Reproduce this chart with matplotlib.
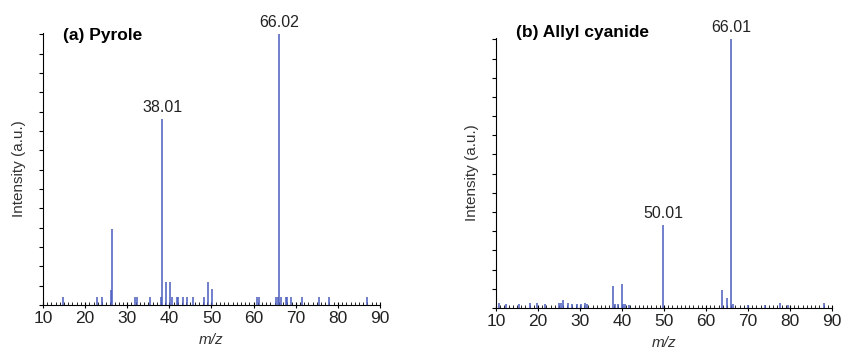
import numpy as np
import matplotlib.pyplot as plt
from matplotlib.ticker import MultipleLocator

plt.rcParams['font.family'] = ['Liberation Sans', 'DejaVu Sans']

# (a) Pyrole: m/z and relative intensity (%)
pyr_mz = [14.7, 22.9, 24.0, 26.1, 26.3, 31.8, 32.3, 35.4, 38.0, 38.3, 39.1, 40.2,
          40.7, 41.8, 42.1, 43.2, 44.1, 45.5, 48.2, 49.2, 50.1, 60.8, 61.2, 65.2,
          65.7, 66.1, 66.5, 67.6, 68.0, 68.9, 71.6, 75.6, 77.8, 86.9]
pyr_int = [3, 3, 3, 5.5, 28, 3, 3, 3, 3, 68.6, 8.6, 8.6,
           3, 3, 3, 3, 3, 3, 3, 8.6, 5.8, 3, 3, 3,
           3, 100, 3, 3, 3, 3, 3, 3, 3, 3]

# (b) Allyl cyanide
ally_mz = [10.7, 12.5, 15.5, 18.0, 19.8, 21.7, 25.1, 25.5, 26.0, 27.1, 28.1, 29.2,
           30.2, 31.3, 31.7, 37.9, 38.3, 39.0, 39.9, 40.3, 40.8, 41.6, 49.8,
           63.8, 64.9, 65.9, 66.4, 70.0, 74.1, 77.6, 79.5, 88.0]
ally_int = [2, 1.5, 1.5, 2, 2, 1.5, 1.8, 2, 2.8, 2, 1.5, 1.5,
            1.5, 2, 1.5, 8.2, 1.5, 1.5, 9.1, 1.5, 1.5, 1.2, 31,
            6.8, 3.9, 100, 1.5, 1.2, 1.2, 2, 1.2, 2]

panels = [
    ("(a) Pyrole", 0.99, pyr_mz, pyr_int, [(66.1, 100, "66.02"), (38.3, 68.6, "38.01")],
     [43 / 845, 45 / 350, 337 / 845, 272 / 350]),
    ("(b) Allyl cyanide", 1.02, ally_mz, ally_int, [(65.9, 100, "66.01"), (49.8, 31, "50.01")],
     [496 / 845, 42 / 350, 336 / 845, 270 / 350]),
]

color = '#4a5dc0'
txt = '#222222'

fig = plt.figure(figsize=(8.45, 3.5), dpi=100)

for title, ty, mz, inten, labels, rect in panels:
    ax = fig.add_axes(rect)
    ax.vlines(mz, 0, inten, color=color, linewidth=1.1)
    ax.set_xlim(10, 90)
    ax.set_ylim(0, 100.5)
    ax.spines['top'].set_visible(False)
    ax.spines['right'].set_visible(False)
    ax.xaxis.set_major_locator(MultipleLocator(10))
    ax.xaxis.set_minor_locator(MultipleLocator(1))
    ax.set_yticks(np.linspace(0, 100, 15))
    ax.set_yticklabels([])
    ax.tick_params(axis='x', which='major', direction='inout', length=5,
                   labelsize=12.5, pad=2, labelcolor=txt)
    ax.tick_params(axis='x', which='minor', direction='in', length=2)
    ax.tick_params(axis='y', direction='out', length=3)
    ax.set_xlabel('m/z', fontsize=11, style='italic', color='#333333', labelpad=5)
    ax.set_ylabel('Intensity (a.u.)', fontsize=11, color='#333333', labelpad=6)
    ax.text(0.06, ty, title, transform=ax.transAxes, fontsize=12.5,
            fontweight='bold', va='center', ha='left')
    for x, y, lab in labels:
        ax.annotate(lab, (x, y), xytext=(0, 3), textcoords='offset points',
                    ha='center', va='bottom', fontsize=11.5, color=txt,
                    annotation_clip=False)

fig.savefig('out.png', dpi=100)
